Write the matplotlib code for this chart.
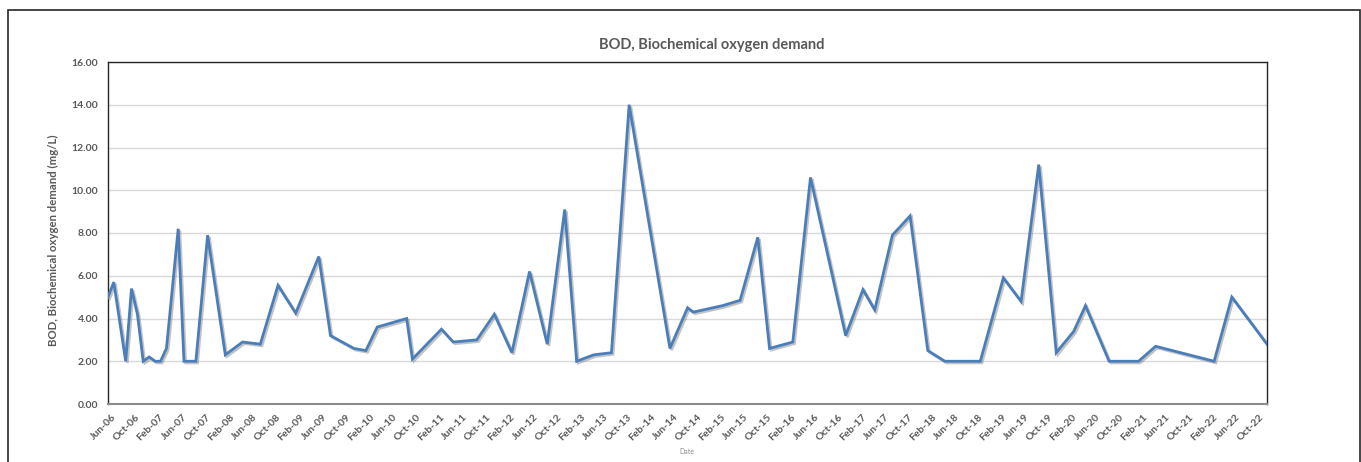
import matplotlib
matplotlib.use("Agg")
import matplotlib.pyplot as plt
import matplotlib.dates as mdates
import matplotlib.patheffects as pe
import matplotlib.transforms as mtransforms
from matplotlib.patches import Rectangle
import pandas as pd

dates = ["2006-06", "2006-07", "2006-09", "2006-10", "2006-11", "2006-12", "2007-01", "2007-02",
         "2007-03", "2007-04", "2007-06", "2007-07", "2007-09", "2007-11", "2008-02", "2008-05",
         "2008-08", "2008-11", "2009-02", "2009-06", "2009-08", "2009-12", "2010-02", "2010-04",
         "2010-09", "2010-10", "2011-03", "2011-05", "2011-09", "2011-12", "2012-03", "2012-06",
         "2012-09", "2012-12", "2013-02", "2013-05", "2013-08", "2013-11", "2014-06", "2014-09",
         "2014-10", "2015-03", "2015-06", "2015-09", "2015-11", "2016-03", "2016-06", "2016-12",
         "2017-03", "2017-05", "2017-08", "2017-11", "2018-02", "2018-05", "2018-11", "2019-03",
         "2019-06", "2019-09", "2019-12", "2020-03", "2020-05", "2020-09", "2021-02", "2021-05",
         "2022-03", "2022-06", "2022-12"]
bod = [5.0, 5.7, 2.0, 5.4, 4.2, 2.0, 2.2, 2.0, 2.0, 2.6, 8.2, 2.0, 2.0, 7.9, 2.3, 2.9, 2.8,
       5.55, 4.25, 6.9, 3.2, 2.6, 2.5, 3.6, 4.0, 2.1, 3.5, 2.9, 3.0, 4.2, 2.4, 6.2, 2.8, 9.1,
       2.0, 2.3, 2.4, 14.0, 2.6, 4.5, 4.3, 4.6, 4.85, 7.8, 2.6, 2.9, 10.6, 3.2, 5.35, 4.4, 7.9,
       8.8, 2.5, 2.0, 2.0, 5.9, 4.8, 11.2, 2.4, 3.4, 4.6, 2.0, 2.0, 2.7, 2.0, 5.0, 2.8]

title = "BOD, Biochemical oxygen demand"
ylabel = "BOD, Biochemical oxygen demand (mg/L)"
xlabel = "Date"
yticks = [0, 2, 4, 6, 8, 10, 12, 14, 16]

plt.rcParams['font.family'] = ['Lato', 'DejaVu Sans']
W, H = 1361, 462
fig = plt.figure(figsize=(W / 100, H / 100), dpi=100)
fig.patch.set_facecolor('white')

# outer chart border
fig.patches.append(Rectangle((8 / W, -0.1), (1360 - 8) / W, 1.1 - 10 / H,
                             transform=fig.transFigure, fill=False,
                             edgecolor='#262626', linewidth=1.2))

left, right, top, bottom = 108, 1267, 62, 404
ax = fig.add_axes([left / W, 1 - bottom / H, (right - left) / W, (bottom - top) / H])

x = pd.to_datetime([d + "-15" for d in dates])
ax.plot(x, bod, color='#4a7ebb', linewidth=2.0, solid_joinstyle='miter',
        path_effects=[pe.SimpleLineShadow(offset=(1.2, -1.2), shadow_color='#888888', alpha=0.5),
                      pe.Normal()], zorder=3)

ax.set_xlim(x[0], x[-1])
ax.set_ylim(0, 16)
ax.set_yticks(yticks)
ax.set_yticklabels([f"{v:.2f}" for v in yticks])
ax.grid(axis='y', color='#d9d9d9', linewidth=1.0)
ax.set_axisbelow(True)

ax.xaxis.set_major_locator(mdates.MonthLocator(bymonth=(2, 6, 10), bymonthday=15))
ax.xaxis.set_major_formatter(mdates.DateFormatter('%b-%y'))
ax.tick_params(axis='both', length=0, colors='#595959')
ax.tick_params(axis='y', pad=7, labelsize=7.5)
ax.tick_params(axis='x', pad=6, labelsize=7.5)
for lab in ax.get_yticklabels():
    lab.set_fontweight('bold')
shift = mtransforms.ScaledTranslation(4 / 100, 0, fig.dpi_scale_trans)
for lab in ax.get_xticklabels():
    lab.set_fontweight('bold')
    lab.set_rotation(45)
    lab.set_ha('right')
    lab.set_rotation_mode('anchor')
    lab.set_transform(lab.get_transform() + shift)

for s in ['top', 'left', 'right']:
    ax.spines[s].set_color('#262626')
    ax.spines[s].set_linewidth(1.0)
ax.spines['bottom'].set_color('#8c8c8c')
ax.spines['bottom'].set_linewidth(1.5)

fig.text(711.7 / W, 1 - 45 / H, title, ha='center', va='center',
         fontsize=10.5, fontweight='bold', color='#595959')
fig.text(53 / W, 1 - 240 / H, ylabel, ha='center', va='center', rotation=90,
         fontsize=8.2, fontweight='bold', color='#595959')
fig.text(687 / W, 1 - 451.5 / H, xlabel, ha='center', va='center',
         fontsize=5, color='#8c8c8c')

fig.savefig("out.png", dpi=100)
